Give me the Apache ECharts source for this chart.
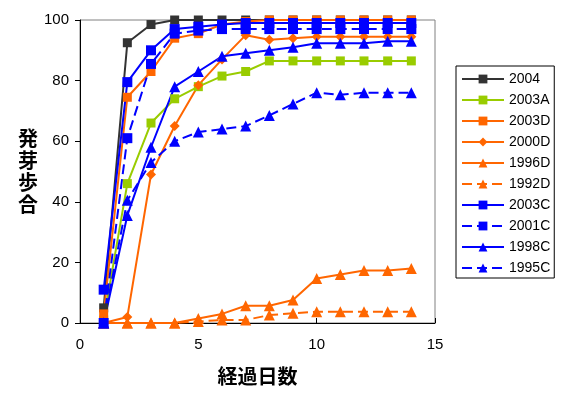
<!DOCTYPE html>
<html>
<head>
<meta charset="utf-8">
<script src="https://cdn.jsdelivr.net/npm/echarts@6/dist/echarts.min.js"></script>
<style>
html, body { margin: 0; padding: 0; background: #fff; }
#chart { width: 574px; height: 397px; }
</style>
</head>
<body>
<div id="chart"></div>
<script>
// 経過日数
var days = [1, 2, 3, 4, 5, 6, 7, 8, 9, 10, 11, 12, 13, 14];
// 発芽歩合 (%)
var s2004  = [5, 92.5, 98.5, 100, 100, 100, 100, 100, 100, 100, 100, 100, 100, 100];
var s2003A = [1, 46, 66, 74, 78, 81.5, 83, 86.5, 86.5, 86.5, 86.5, 86.5, 86.5, 86.5];
var s2003D = [3, 74.5, 83, 94, 95.5, 98.5, 99.5, 100, 100, 100, 100, 100, 100, 100];
var s2000D = [0, 2, 49, 65, 78.5, 87, 95, 93.5, 94, 94.5, 94.5, 94.5, 94.5, 94.5];
var s1996D = [0, 0, 0, 0, 1.5, 3, 5.7, 5.7, 7.6, 14.7, 16, 17.3, 17.3, 18];
var s1992D = [0, 0, 0, 0, 0.5, 1, 1, 2.6, 3.2, 3.7, 3.7, 3.7, 3.7, 3.7];
var s2003C = [11, 79.5, 90, 97, 97.8, 98.5, 99, 99, 99, 99, 99, 99, 99, 99];
var s2001C = [0, 61, 85.5, 95.5, 96.5, 97, 97, 97, 97, 97, 97, 97, 97, 97];
var s1998C = [0, 35.5, 58, 78, 83, 88, 89, 90, 91, 92.3, 92.3, 92.3, 93, 93];
var s1995C = [0, 40.5, 53, 60, 63, 64, 65, 68.5, 72.3, 76, 75.3, 76, 76, 76];
var xTicks = [0, 5, 10, 15];
var yTicks = [0, 20, 40, 60, 80, 100];

var BLACK = '#333333', GREEN = '#99cc00', ORANGE = '#ff6600', BLUE = '#0000ff';
var fontJP = '"Noto Sans CJK JP", sans-serif';
var fontNum = '"Liberation Sans", Arial, sans-serif';

function pairs(vals) {
    var out = [];
    for (var i = 0; i < days.length; i++) {
        out.push([days[i], vals[i]]);
    }
    return out;
}

// 系列を作る
function mkSeries(name, vals, color, symbol, size, dashed) {
    return {
        name: name,
        type: 'line',
        data: pairs(vals),
        symbol: symbol,
        symbolSize: size,
        showAllSymbol: true,
        clip: false,
        lineStyle: { color: color, width: 2, type: dashed ? [10, 5] : 'solid' },
        itemStyle: { color: color, borderWidth: 0 },
        emphasis: { disabled: true },
        animation: false
    };
}

var seriesList = [
    mkSeries('2004', s2004, BLACK, 'rect', 9, false),
    mkSeries('2003A', s2003A, GREEN, 'rect', 9, false),
    mkSeries('2003D', s2003D, ORANGE, 'rect', 9, false),
    mkSeries('2000D', s2000D, ORANGE, 'diamond', 10, false),
    mkSeries('1996D', s1996D, ORANGE, 'triangle', 11, false),
    mkSeries('1992D', s1992D, ORANGE, 'triangle', 11, true),
    mkSeries('2003C', s2003C, BLUE, 'rect', 10, false),
    mkSeries('2001C', s2001C, BLUE, 'rect', 10, true),
    mkSeries('1998C', s1998C, BLUE, 'triangle', 11, false),
    mkSeries('1995C', s1995C, BLUE, 'triangle', 11, true)
];

var myChart = echarts.init(document.getElementById('chart'));
var option = {
    backgroundColor: '#ffffff',
    animation: false,
    grid: {
        left: 80, right: 139, top: 20, bottom: 74,
        show: true, borderColor: '#808080', borderWidth: 1
    },
    legend: {
        orient: 'vertical',
        left: 456, top: 66,
        padding: [6, 4, 3, 5],
        itemWidth: 42, itemHeight: 11, itemGap: 7,
        borderColor: '#000', borderWidth: 1,
        textStyle: { fontSize: 14, lineHeight: 14, fontFamily: fontNum, color: '#000' },
        data: seriesList.map(function (s) { return s.name; })
    },
    xAxis: {
        type: 'value',
        min: xTicks[0], max: xTicks[xTicks.length - 1], interval: 5,
        name: '経過日数',
        nameLocation: 'middle',
        nameGap: 43,
        nameTextStyle: { fontSize: 20, fontWeight: 'bold', fontFamily: fontJP, color: '#000' },
        axisLine: { lineStyle: { color: '#000', width: 1 } },
        axisTick: { inside: true, length: 5, lineStyle: { color: '#000' } },
        axisLabel: { fontSize: 15, fontFamily: fontNum, color: '#000', margin: 14 },
        splitLine: { show: false }
    },
    yAxis: {
        type: 'value',
        min: yTicks[0], max: yTicks[yTicks.length - 1], interval: 20,
        name: '発\n芽\n歩\n合',
        nameLocation: 'middle',
        nameRotate: 0,
        nameGap: 40,
        nameTextStyle: { fontSize: 20, lineHeight: 22, fontWeight: 'bold', fontFamily: fontJP, color: '#000' },
        axisLine: { show: true, lineStyle: { color: '#000', width: 1 } },
        axisTick: { show: true, length: 5, lineStyle: { color: '#000' } },
        axisLabel: { fontSize: 15, fontFamily: fontNum, color: '#000', margin: 11 },
        splitLine: { show: false }
    },
    series: seriesList
};
myChart.setOption(option);
</script>
</body>
</html>
